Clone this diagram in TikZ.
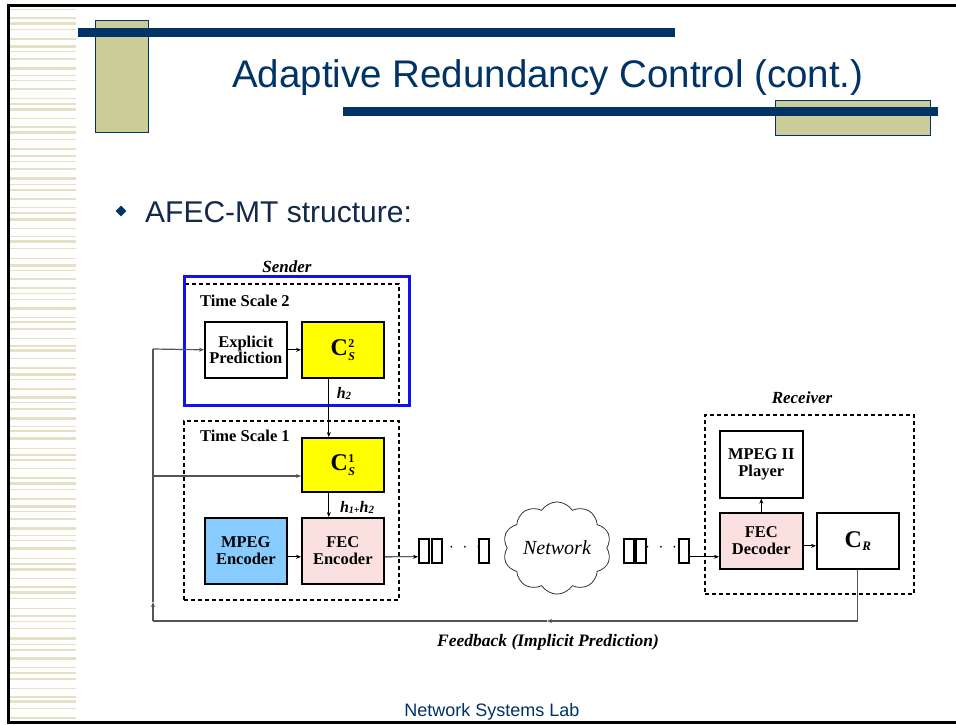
\documentclass[tikz,border=0pt]{standalone}
\usepackage{fontspec}
\setmainfont{Liberation Serif}
\newfontfamily\slidesans{Liberation Sans}
\usetikzlibrary{arrows.meta,shapes.symbols,shapes.geometric}
\definecolor{navy}{HTML}{003366}
\definecolor{tan}{HTML}{CCCC99}
\definecolor{stripe}{HTML}{E4E1C6}
\definecolor{bodynavy}{HTML}{12294A}
\definecolor{senderblue}{HTML}{1010F0}
\definecolor{csyellow}{HTML}{FFFF00}
\definecolor{fecpink}{HTML}{FBE0E0}
\definecolor{mpegblue}{HTML}{88CCFF}
\definecolor{fbgray}{HTML}{555555}
% C with stacked superscript and italic subscript
\newcommand{\csym}[2]{{\bfseries\fontsize{24}{24}\selectfont C}\hspace{0.5pt}\raisebox{-5pt}{\fontsize{12}{12}\selectfont\bfseries\shortstack[l]{#1\\[2pt]\textit{#2}}}}
\begin{document}
\begin{tikzpicture}[x=1pt,y=-1pt,
  box/.style={draw, line width=1.6pt, inner sep=0pt, anchor=north west, align=center,
    font=\bfseries\fontsize{16.5}{17}\selectfont},
  dashbox/.style={draw, dash pattern=on 4pt off 3pt, line width=1.5pt, inner sep=0pt,
    anchor=north west},
  pkt/.style={draw, line width=1.5pt, inner sep=0pt, anchor=north west,
    minimum width=10pt, minimum height=24pt},
  arr/.style={-{Stealth[length=5pt,width=4pt]}, line width=0.9pt},
  fb/.style={draw=fbgray, line width=1.2pt},
  fbarr/.style={fb, -{Stealth[length=5pt,width=4pt]}},
  lbl/.style={inner sep=0pt, font=\bfseries\itshape\fontsize{17}{17}\selectfont},
  tslbl/.style={inner sep=0pt, anchor=west, font=\bfseries\fontsize{16.5}{17}\selectfont},
  dots/.style={inner sep=0pt, font=\bfseries\fontsize{18}{18}\selectfont}
]
\useasboundingbox (0,0) rectangle (956,724);
\fill[white] (0,0) rectangle (956,724);

% left margin stripes
\foreach \k in {0,...,97}{
  \pgfmathsetmacro\yy{9+7.3*\k+1.6*sin(\k*97)}
  \pgfmathsetmacro\ww{0.9+0.9*mod(\k*7,3)}
  \draw[stripe, line width=\ww pt] (7,\yy) -- (76,\yy);
}

% slide frame
\draw[line width=3pt] (956,5.5) -- (8.5,5.5) -- (8.5,722.5) -- (956,722.5);

% title decoration
\filldraw[fill=tan, draw=navy, line width=1pt] (95,20) rectangle (148,132);
\fill[navy] (78,28) rectangle (675,37);
\filldraw[fill=tan, draw=navy, line width=1pt] (775,100) rectangle (930,135);
\fill[navy] (343,107) rectangle (938,116);

\node[anchor=base west, inner sep=0pt, text=navy,
  font=\slidesans\fontsize{38.5}{39}\selectfont] (title) at (232,87)
  {Adaptive Redundancy Control (cont.)};

\node[diamond, fill=navy, minimum size=11pt, inner sep=0pt] (bullet) at (121,211) {};
\node[anchor=base west, inner sep=0pt, text=bodynavy,
  font=\slidesans\fontsize{30}{30}\selectfont] (bullettext) at (145,222)
  {AFEC-MT structure:};

\node[anchor=base, inner sep=0pt, text=navy,
  font=\slidesans\fontsize{18}{18}\selectfont] (footer) at (492,716)
  {Network Systems Lab};

% ---------------- sender ----------------
\node[lbl] (sender) at (287,267) {Sender};
\node[dashbox, minimum width=215pt, minimum height=121pt] (ts2) at (183,283) {};
\node[draw=senderblue, line width=3pt, inner sep=0pt, anchor=north west,
  minimum width=225pt, minimum height=129pt] (senderbox) at (183,275) {};
\node[tslbl] (ts2lbl) at (200,301) {Time Scale 2};

\node[box, minimum width=82pt, minimum height=56pt] (explicit) at (204,321)
  {Explicit\\[-1pt]Prediction};
\node[box, fill=csyellow, minimum width=82pt, minimum height=56pt] (cs2) at (301,321)
  {\csym{2}{S}};
\node[lbl, font=\bfseries\itshape\fontsize{16}{16}\selectfont] (h2) at (344,393)
  {h\raisebox{-1pt}{\fontsize{11}{11}\selectfont 2}};

\node[dashbox, minimum width=215pt, minimum height=179pt] (ts1) at (183,420) {};
\node[tslbl] (ts1lbl) at (200,436) {Time Scale 1};
\node[box, fill=csyellow, minimum width=82pt, minimum height=54pt] (cs1) at (301,437)
  {\csym{1}{S}};
\node[lbl, font=\bfseries\itshape\fontsize{16}{16}\selectfont] (h12) at (357,507)
  {h\raisebox{-1pt}{\fontsize{10}{10}\selectfont 1}\raisebox{-1pt}{\fontsize{10}{10}\selectfont +}h\raisebox{-1pt}{\fontsize{11}{11}\selectfont 2}};

\node[box, fill=mpegblue, minimum width=82pt, minimum height=66pt] (mpegenc) at (204,517)
  {MPEG\\Encoder};
\node[box, fill=fecpink, minimum width=82pt, minimum height=66pt] (fecenc) at (301,517)
  {FEC\\Encoder};

% ---------------- network ----------------
\node[pkt] (p1) at (418,538) {};
\node[pkt] (p2) at (431,538) {};
\node[dots] (pdots) at (465,548) {$\cdot\;\cdot\;\cdot$};
\node[pkt] (p3) at (478,538) {};

\node[cloud, draw=black!80, line width=0.8pt, cloud puffs=10, cloud puff arc=115,
  aspect=1.2, minimum width=108pt, minimum height=86pt, inner sep=0pt,
  font=\itshape\fontsize{20}{20}\selectfont] (network) at (557,548) {Network};

\node[pkt] (q1) at (623,538) {};
\node[pkt] (q2) at (635,538) {};
\node[dots] (qdots) at (661,548) {$\cdot\;\cdot\;\cdot$};
\node[pkt] (q3) at (678,538) {};

% ---------------- receiver ----------------
\node[lbl] (receiver) at (802,398) {Receiver};
\node[dashbox, minimum width=209pt, minimum height=179pt] (rx) at (704,414) {};
\node[box, minimum width=83pt, minimum height=67pt] (player) at (719,430)
  {MPEG II\\Player};
\node[box, fill=fecpink, minimum width=83pt, minimum height=56pt] (fecdec) at (719,512)
  {FEC\\Decoder};
\node[box, minimum width=82pt, minimum height=56pt] (cr) at (816,512)
  {{\fontsize{24}{24}\selectfont C}\hspace{0.5pt}\raisebox{-3pt}{\fontsize{13}{13}\selectfont\itshape R}};

% ---------------- connectors ----------------
\draw[arr] (explicit.east) -- (cs2.west);
\draw[arr] ([xshift=-14pt]cs2.south) -- ([xshift=-14pt]cs1.north);
\draw[arr] ([xshift=-14pt]cs1.south) -- ([xshift=-14pt]fecenc.north);
\draw[arr] ([yshift=-6pt]mpegenc.east) -- ([yshift=-6pt]fecenc.west);
\draw[arr] ([yshift=-6pt]fecenc.east) -- ([yshift=-6pt]p1.west);
\draw[arr] ([yshift=-6pt]q3.east) -- ([yshift=-6pt]q3.east -| fecdec.west);
\draw[arr] ([yshift=-5pt]fecdec.east) -- ([yshift=-5pt]cr.west);
\draw[arr] (fecdec.north) -- (player.south);

% feedback loop
\coordinate (fbright) at (cr.south |- 0,621);
\coordinate (fbmid) at (547,621);
\coordinate (fbleft) at (153,621);
\coordinate (fbup) at (153,602);
\coordinate (fbtop) at (153,349);
\coordinate (fbbranch) at (153,476);
\draw[fb] (cr.south) -- (fbright);
\draw[fbarr] (fbright) -- (fbmid);
\draw[fb] (fbmid) -- (fbleft);
\draw[fbarr] (fbleft) -- (fbup);
\draw[fb] (fbup) -- (fbtop);
\draw[arr, draw=fbgray, line width=1.2pt] (fbtop) -- (explicit.west);
\draw[arr, draw=fbgray, line width=1.2pt] (fbbranch) -- (fbbranch -| cs1.west);

\node[lbl, font=\bfseries\itshape\fontsize{17.5}{18}\selectfont] (fblbl) at (548,642)
  {Feedback (Implicit Prediction)};
\end{tikzpicture}
\end{document}
